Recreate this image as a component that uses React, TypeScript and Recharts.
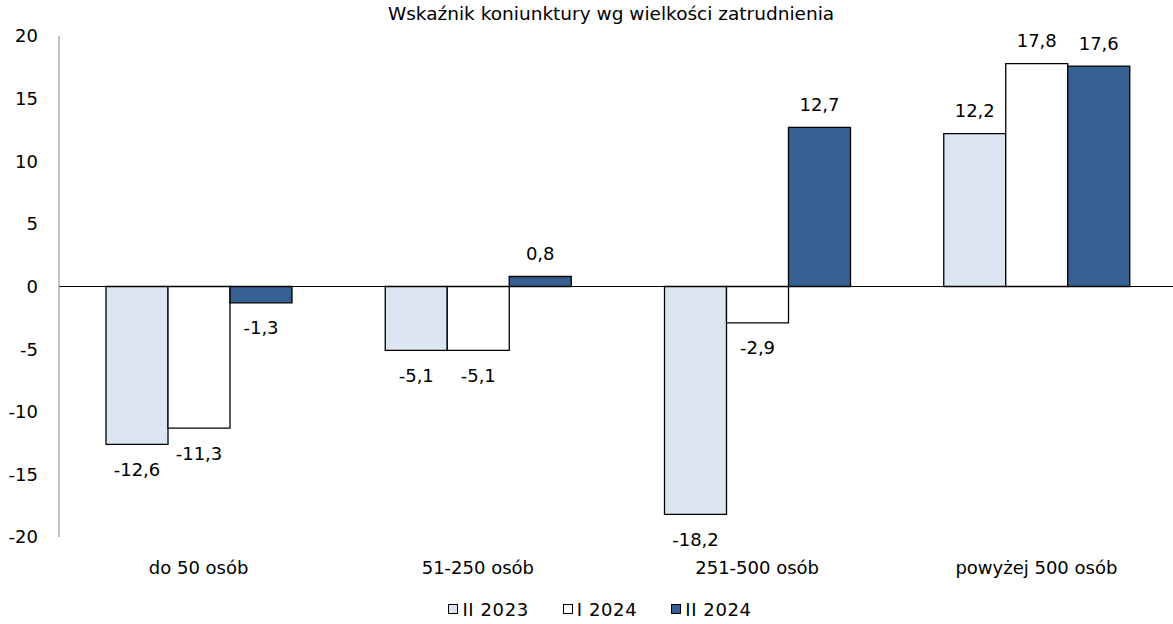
import React from 'react';
import { BarChart, Bar, XAxis, YAxis, ReferenceLine, LabelList, Legend } from 'recharts';

const categories = ['do 50 osób', '51-250 osób', '251-500 osób', 'powyżej 500 osób'];
const seriesII2023 = [-12.6, -5.1, -18.2, 12.2];
const seriesI2024 = [-11.3, -5.1, -2.9, 17.8];
const seriesII2024 = [-1.3, 0.8, 12.7, 17.6];
const yTicks = [-20, -15, -10, -5, 0, 5, 10, 15, 20];
const title = 'Wskaźnik koniunktury wg wielkości zatrudnienia';

const seriesMeta = [
  { key: 'II 2023', fill: '#DCE6F2' },
  { key: 'I 2024', fill: '#FFFFFF' },
  { key: 'II 2024', fill: '#376092' },
];

const data = categories.map((c, i) => ({
  name: c,
  'II 2023': seriesII2023[i],
  'I 2024': seriesI2024[i],
  'II 2024': seriesII2024[i],
}));

const FONT = '"DejaVu Sans", Verdana, sans-serif';
const fmt = (v: number) => v.toFixed(1).replace('.', ',');

const ValueLabel = (props: any) => {
  const { x, y, width, height, value } = props;
  const top = Math.min(y, y + height);
  const bottom = Math.max(y, y + height);
  const cy = value >= 0 ? top - 23 : bottom + 25;
  return (
    <text x={x + width / 2} y={cy} textAnchor="middle" dominantBaseline="central" fontSize={18} fontFamily={FONT} fill="#000">
      {fmt(value)}
    </text>
  );
};

const CatTick = (props: any) => {
  const { x, y, payload } = props;
  return (
    <text x={x} y={y + 30} textAnchor="middle" dominantBaseline="central" fontSize={18} fontFamily={FONT} fill="#000">
      {payload.value}
    </text>
  );
};

const LegendContent = () => (
  <div style={{ display: 'flex', justifyContent: 'center', paddingLeft: 24, height: 30, alignItems: 'center', fontFamily: FONT, fontSize: 18, color: '#000' }}>
    {seriesMeta.map((s, i) => (
      <div key={s.key} style={{ display: 'flex', alignItems: 'center', marginLeft: i === 0 ? 0 : 34 }}>
        <div style={{ width: 8, height: 8, background: s.fill, border: '1px solid #000', marginRight: 4 }} />
        <span style={{ letterSpacing: 0.6 }}>{s.key}</span>
      </div>
    ))}
  </div>
);

export default function App() {
  return (
    <div style={{ position: 'absolute', left: 0, top: 0, width: 1173, height: 624, overflow: 'hidden', background: '#fff' }}>
      <div style={{ position: 'absolute', left: 0, top: 3, width: 1222, textAlign: 'center', fontFamily: FONT, fontSize: 18.5, lineHeight: '22px', color: '#000' }}>
        {title}
      </div>
      <BarChart width={1180} height={624} data={data} margin={{ top: 36, right: 4, bottom: 0, left: 0 }} barGap={0} barSize={62}>
        <XAxis dataKey="name" axisLine={false} tickLine={false} tickSize={0} tickMargin={0} height={57} tick={<CatTick />} interval={0} />
        <YAxis
          domain={[-20, 20]}
          ticks={yTicks}
          width={59}
          tickLine={false}
          tickSize={0}
          tickMargin={21}
          axisLine={{ stroke: '#868686', strokeWidth: 1 }}
          tick={{ fontSize: 18, fontFamily: FONT, fill: '#000' }}
          allowDataOverflow
        />
        <Legend verticalAlign="bottom" height={30} content={<LegendContent />} />
        {seriesMeta.map((s) => (
          <Bar key={s.key} dataKey={s.key} fill={s.fill} stroke="#000" strokeWidth={1.3} isAnimationActive={false}>
            <LabelList dataKey={s.key} content={<ValueLabel />} />
          </Bar>
        ))}
        <ReferenceLine y={0} stroke="#000" strokeWidth={1} />
      </BarChart>
    </div>
  );
}
